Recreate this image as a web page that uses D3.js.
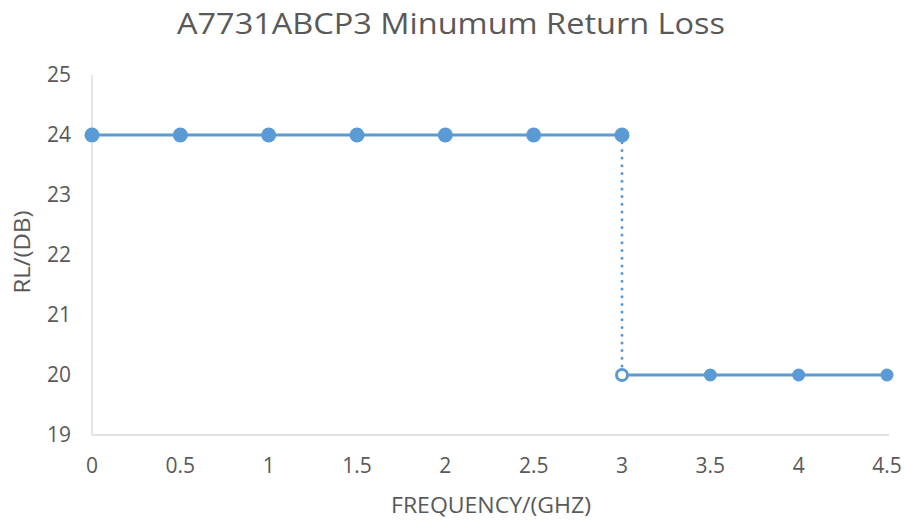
<!DOCTYPE html>
<html><head><meta charset="utf-8">
<script src="https://cdn.jsdelivr.net/npm/d3@7"></script>
<style>body{margin:0;background:#fff}svg{display:block}text{font-family:"Open Sans",sans-serif;fill:#595959}</style>
</head><body>
<svg id="c" width="904" height="521"></svg>
<script>
const title = "A7731ABCP3 Minumum Return Loss";
const xLabel = "FREQUENCY/(GHZ)";
const yLabel = "RL/(DB)";
const xTicks = [0, 0.5, 1, 1.5, 2, 2.5, 3, 3.5, 4, 4.5];
const yTicks = [19, 20, 21, 22, 23, 24, 25];
const highFreq = [0, 0.5, 1, 1.5, 2, 2.5, 3];
const highRL = [24, 24, 24, 24, 24, 24, 24];
const lowFreq = [3, 3.5, 4, 4.5];
const lowRL = [20, 20, 20, 20];
const color = "#5B9BD5";

const svg = d3.select("#c");
const x = d3.scaleLinear().domain([0, 4.5]).range([92, 887]);
const y = d3.scaleLinear().domain([19, 25]).range([435, 75]);

svg.append("text").attr("x", 451).attr("y", 34).attr("text-anchor", "middle")
  .style("font-size", "30px").attr("textLength", 548).attr("lengthAdjust", "spacingAndGlyphs").text(title);

// axes lines
svg.append("line").attr("x1", x(0)).attr("x2", x(0)).attr("y1", y(25)).attr("y2", y(19))
  .attr("stroke", "#d9d9d9").attr("stroke-width", 1.3);
svg.append("line").attr("x1", x(0)).attr("x2", 889).attr("y1", y(19)).attr("y2", y(19))
  .attr("stroke", "#d9d9d9").attr("stroke-width", 1.3);

svg.selectAll(".yt").data(yTicks).enter().append("text")
  .attr("x", 71).attr("y", d => y(d)).attr("dy", "0.35em").attr("text-anchor", "end")
  .style("font-size", "21px").text(d => d);
svg.selectAll(".xt").data(xTicks).enter().append("text")
  .attr("x", d => x(d)).attr("y", 466).attr("dy", "0.35em").attr("text-anchor", "middle")
  .style("font-size", "21px").text(d => d);

svg.append("text").attr("x", 491).attr("y", 506).attr("dy", "0.35em").attr("text-anchor", "middle")
  .style("font-size", "21px").attr("textLength", 200).attr("lengthAdjust", "spacingAndGlyphs").text(xLabel);
svg.append("text").attr("transform", "translate(23,252) rotate(-90)").attr("dy", "0.35em")
  .attr("text-anchor", "middle").style("font-size", "21px").attr("textLength", 83)
  .attr("lengthAdjust", "spacingAndGlyphs").text(yLabel);

const line = d3.line().x(d => x(d[0])).y(d => y(d[1]));
const hi = highFreq.map((f, i) => [f, highRL[i]]);
const lo = lowFreq.map((f, i) => [f, lowRL[i]]);

// dotted drop
svg.append("path").attr("d", line([hi[hi.length - 1], lo[0]])).attr("fill", "none")
  .attr("stroke", color).attr("stroke-width", 3).attr("stroke-dasharray", "0 7.7").attr("stroke-linecap", "round")
  .attr("stroke-dashoffset", -7.7);

svg.append("path").attr("d", line(hi)).attr("fill", "none").attr("stroke", color).attr("stroke-width", 3);
svg.append("path").attr("d", line(lo)).attr("fill", "none").attr("stroke", color).attr("stroke-width", 3);

svg.selectAll(".hm").data(hi).enter().append("circle")
  .attr("cx", d => x(d[0])).attr("cy", d => y(d[1])).attr("r", 7.5).attr("fill", color);
svg.selectAll(".lm").data(lo.slice(1)).enter().append("circle")
  .attr("cx", d => x(d[0])).attr("cy", d => y(d[1])).attr("r", 6.5).attr("fill", color);
svg.selectAll(".om").data(lo.slice(0, 1)).enter().append("circle")
  .attr("cx", d => x(d[0])).attr("cy", d => y(d[1])).attr("r", 5.5).attr("fill", "#fff")
  .attr("stroke", color).attr("stroke-width", 3);
</script>
</body></html>
